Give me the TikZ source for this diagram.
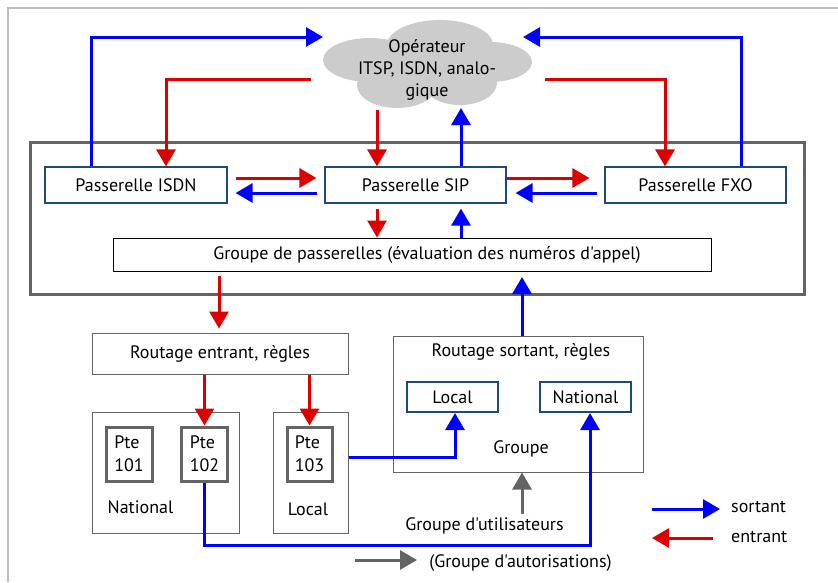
\documentclass[tikz,border=0pt]{standalone}
\usepackage{fontspec}
\setmainfont{PT Sans}[Ligatures=TeXOff]
\usetikzlibrary{arrows.meta,calc}
\definecolor{myblue}{RGB}{0,0,255}
\definecolor{myred}{RGB}{220,0,0}
\definecolor{boxblue}{RGB}{31,73,125}
\definecolor{boxgray}{RGB}{100,100,100}
\definecolor{cloudgray}{RGB}{204,204,204}
\definecolor{framegray}{RGB}{190,190,190}
\tikzset{
  txt/.style={font=\fontsize{18}{22}\selectfont, inner sep=0pt},
  gwbox/.style={draw=boxblue, line width=1.2pt, inner sep=0pt, txt, minimum width=181pt, minimum height=36pt},
  thinbox/.style={draw=boxgray, line width=1pt, inner sep=0pt, txt},
  ptebox/.style={draw=boxgray, line width=3pt, inner sep=0pt, align=left, minimum width=46pt, minimum height=54pt, font=\fontsize{18}{23}\selectfont},
  selbox/.style={draw=boxblue, line width=2pt, inner sep=0pt, txt, minimum width=91pt, minimum height=30pt},
  tip/.style={-{Triangle[width=19pt,length=17pt]}},
  bl/.style={draw=myblue, line width=3pt, tip},
  rd/.style={draw=myred, line width=3pt, tip},
  gr/.style={draw=boxgray, line width=3pt, tip},
}
\begin{document}
\begin{tikzpicture}[x=1pt,y=-1pt]
\useasboundingbox (0,0) rectangle (838,582);
% outer frame
\draw[framegray, line width=2pt] (8,582) -- (8,8) -- (838,8);
% cloud
\fill[cloudgray]
  (440,45) ellipse [x radius=53pt, y radius=25pt]
  (370,60) ellipse [x radius=47pt, y radius=22pt]
  (490,62) ellipse [x radius=42pt, y radius=20pt]
  (397,85) ellipse [x radius=40pt, y radius=23pt]
  (460,83) ellipse [x radius=37pt, y radius=22pt]
  (430,65) ellipse [x radius=60pt, y radius=30pt];
\node[txt, align=center] (cloud) at (427,70) {Opérateur\\ITSP, ISDN, analo-\\gique};
% big gateway box
\node[draw=boxgray, line width=3pt, minimum width=774pt, minimum height=152pt, inner sep=0pt] (gw) at (417,218) {};
\node[gwbox, minimum width=182pt] (isdn) at (136,185) {Passerelle ISDN};
\node[gwbox] (sip) at (415.5,185) {Passerelle SIP};
\node[gwbox] (fxo) at (695.5,185) {Passerelle FXO};
\node[draw=black, line width=1pt, inner sep=0pt, minimum width=598pt, minimum height=33pt] (grp) at (412,254.5) {};
\node[txt] (grpt) at (427,254.5) {Groupe de passerelles (évaluation des numéros d'appel)};
% routing boxes
\node[thinbox, minimum width=256pt, minimum height=41pt] (re) at (220,353.5) {Routage entrant, règles};
\node[thinbox, minimum width=250pt, minimum height=136pt] (rs) at (518,404) {};
\node[txt] (rst) at (521,352) {Routage sortant, règles};
\node[txt] (grpo) at (521,449) {Groupe};
\node[selbox] (loc) at (452.5,397) {Local};
\node[selbox] (nat) at (585.5,397) {National};
% user groups
\node[thinbox, minimum width=147pt, minimum height=121pt] (ng) at (165.5,472.5) {};
\node[thinbox, minimum width=75pt, minimum height=121pt] (lg) at (310.5,472.5) {};
\node[ptebox] (pte101) at (129,454) {Pte\\101};
\node[ptebox] (pte102) at (204.5,454) {Pte\\102};
\node[ptebox, minimum width=45pt] (pte103) at (309.5,454) {Pte\\103};
\node[txt] (ngt) at (140.5,507) {National};
\node[txt] (lgt) at (308,509) {Local};
\node[txt] (ug) at (484.5,526) {Groupe d'utilisateurs};
\node[txt] (ag) at (520.5,563) {(Groupe d'autorisations)};
% coordinates
\coordinate (c1) at (91,37);
\coordinate (c1e) at (323,37);
\coordinate (c2s) at (311,79);
\coordinate (c2) at (166,79);
\coordinate (c3s) at (377,110);
\coordinate (c4e) at (461,108);
\coordinate (c5s) at (545,79);
\coordinate (c5) at (665,79);
\coordinate (c6) at (741,37);
\coordinate (c6e) at (523,37);
\coordinate (c13) at (219,276);
\coordinate (c14) at (522,277);
\coordinate (c17) at (455,457);
\coordinate (c18) at (590,545);
\coordinate (c19) at (522,514);
% cloud <-> gateways
\draw[bl] (isdn.north -| c1) -- (c1) -- (c1e);
\draw[rd] (c2s) -- (c2) -- (isdn.north -| c2);
\draw[rd] (c3s) -- (sip.north -| c3s);
\draw[bl] (sip.north -| c4e) -- (c4e);
\draw[rd] (c5s) -- (c5) -- (fxo.north -| c5);
\draw[bl] (fxo.north -| c6) -- (c6) -- (c6e);
% between gateways
\draw[rd] ($(isdn.east)+(8,-7)$) -- ($(sip.west)+(-8,-7)$);
\draw[bl] ($(sip.west)+(-7,8)$) -- ($(isdn.east)+(8,8)$);
\draw[rd] ($(sip.east)+(0,-7)$) -- ($(fxo.west)+(-15,-7)$);
\draw[bl] ($(fxo.west)+(-7,8)$) -- ($(sip.east)+(9,8)$);
\draw[rd, shorten <=5pt] (sip.south -| c3s) -- (grp.north -| c3s);
\draw[bl, shorten >=5pt] (grp.north -| c4e) -- (sip.south -| c4e);
% to / from routing
\draw[rd, shorten >=4pt] (c13) -- (re.north -| c13);
\draw[bl] (rs.north -| c14) -- (c14);
\draw[rd] (re.south -| pte102) -- (pte102.north);
\draw[rd] (re.south -| pte103) -- (pte103.north);
\draw[bl] (lg.east |- c17) -- (c17) -- (loc.south -| c17);
\draw[bl] (pte102.south) -- (pte102.south |- c18) -- (c18) -- (nat.south -| c18);
\draw[gr] (c19) -- (rs.south -| c19);
% legend
\coordinate (g1) at (355,560);
\coordinate (g2) at (417,560);
\draw[gr] (g1) -- (g2);
\coordinate (l1) at (652,509);
\coordinate (l2) at (720,509);
\draw[bl] (l1) -- (l2);
\coordinate (l3) at (713,538);
\coordinate (l4) at (652,538);
\draw[rd] (l3) -- (l4);
\node[txt, anchor=west] (lt1) at (731,507) {sortant};
\node[txt, anchor=west] (lt2) at (731,537) {entrant};
\end{tikzpicture}
\end{document}
